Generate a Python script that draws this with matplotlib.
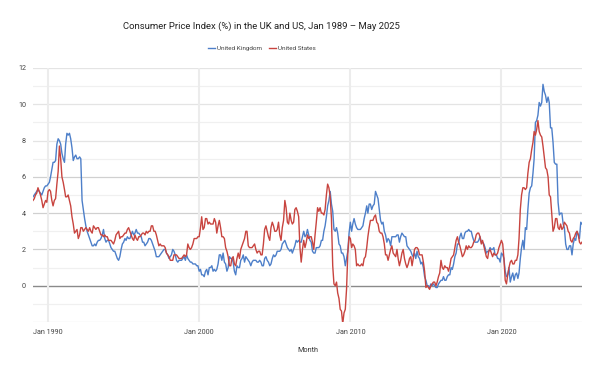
import matplotlib
matplotlib.use("Agg")
import matplotlib.pyplot as plt
import pandas as pd

plt.rcParams['font.family'] = ['Roboto', 'DejaVu Sans']

title = "Consumer Price Index (%) in the UK and US, Jan 1989 \u2013 May 2025"
series_names = ["United Kingdom", "United States"]
start_month = "1989-01-01"
x_label = "Month"
x_tick_years = [1990, 2000, 2010, 2020]
y_tick_values = [0, 2, 4, 6, 8, 10, 12]

uk_cpi = [
    4.9, 5.0, 5.1, 5.2, 5.3, 5.2, 5.1, 5.0, 5.2, 5.4, 5.5, 5.5,   # 1989
    5.6, 5.7, 6.0, 6.4, 6.8, 6.8, 6.9, 7.8, 8.1, 8.0, 7.8, 7.3,   # 1990
    7.0, 6.8, 7.8, 8.4, 8.3, 8.4, 8.1, 7.6, 6.9, 7.1, 7.2, 7.0,   # 1991
    7.0, 7.1, 7.0, 4.7, 4.2, 3.7, 3.3, 3.0, 2.8, 2.6, 2.4, 2.2,   # 1992
    2.2, 2.3, 2.2, 2.4, 2.5, 2.5, 2.6, 2.8, 3.1, 2.6, 2.4, 2.5,   # 1993
    2.5, 2.3, 2.1, 2.0, 1.9, 1.9, 1.7, 1.5, 1.4, 1.6, 2.0, 2.3,   # 1994
    2.4, 2.6, 2.5, 2.7, 2.6, 2.6, 2.8, 3.0, 2.8, 2.9, 3.1, 2.9,   # 1995
    2.9, 2.8, 2.7, 2.4, 2.4, 2.2, 2.3, 2.4, 2.6, 2.6, 2.5, 2.3,   # 1996
    2.1, 1.9, 1.6, 1.6, 1.6, 1.7, 1.8, 1.9, 2.0, 2.0, 1.8, 1.7,   # 1997
    1.5, 1.6, 1.7, 2.0, 1.9, 1.7, 1.4, 1.3, 1.4, 1.4, 1.4, 1.5,   # 1998
    1.6, 1.4, 1.7, 1.5, 1.4, 1.3, 1.3, 1.2, 1.2, 1.2, 1.1, 1.1,   # 1999
    0.8, 0.9, 0.6, 0.6, 0.5, 0.8, 0.9, 0.6, 1.0, 1.0, 1.1, 0.8,   # 2000
    0.9, 0.8, 0.9, 1.2, 1.7, 1.7, 1.4, 1.8, 1.3, 1.2, 0.8, 1.0,   # 2001
    1.6, 1.5, 1.5, 1.3, 0.8, 0.6, 1.1, 1.0, 1.0, 1.4, 1.5, 1.7,   # 2002
    1.3, 1.6, 1.5, 1.4, 1.3, 1.1, 1.3, 1.4, 1.4, 1.4, 1.3, 1.3,   # 2003
    1.4, 1.3, 1.1, 1.1, 1.5, 1.6, 1.4, 1.3, 1.1, 1.2, 1.5, 1.7,   # 2004
    1.6, 1.7, 1.9, 1.9, 1.9, 2.0, 2.3, 2.4, 2.5, 2.3, 2.1, 2.0,   # 2005
    1.9, 2.0, 1.8, 2.0, 2.2, 2.5, 2.4, 2.5, 2.4, 2.4, 2.7, 3.0,   # 2006
    2.7, 2.8, 3.1, 2.8, 2.5, 2.4, 1.9, 1.8, 1.8, 2.1, 2.1, 2.1,   # 2007
    2.2, 2.5, 2.5, 3.0, 3.3, 3.8, 4.4, 4.7, 5.2, 4.5, 4.1, 3.1,   # 2008
    3.0, 3.2, 2.9, 2.3, 2.2, 1.8, 1.8, 1.6, 1.1, 1.5, 1.9, 2.9,   # 2009
    3.5, 3.0, 3.4, 3.7, 3.4, 3.2, 3.1, 3.1, 3.1, 3.2, 3.3, 3.7,   # 2010
    4.0, 4.4, 4.0, 4.5, 4.5, 4.2, 4.4, 4.5, 5.2, 5.0, 4.8, 4.2,   # 2011
    3.6, 3.4, 3.5, 3.0, 2.8, 2.4, 2.6, 2.5, 2.2, 2.7, 2.7, 2.7,   # 2012
    2.7, 2.8, 2.8, 2.4, 2.7, 2.9, 2.8, 2.7, 2.7, 2.2, 2.1, 2.0,   # 2013
    1.9, 1.7, 1.6, 1.8, 1.5, 1.9, 1.6, 1.5, 1.2, 1.3, 1.0, 0.5,   # 2014
    0.3, 0.0, 0.0, -0.1, 0.1, 0.0, 0.1, 0.0, -0.1, -0.1, 0.1, 0.2,  # 2015
    0.3, 0.3, 0.5, 0.3, 0.3, 0.5, 0.6, 0.6, 1.0, 0.9, 1.2, 1.6,   # 2016
    1.8, 2.3, 2.3, 2.7, 2.9, 2.6, 2.6, 2.9, 3.0, 3.0, 3.1, 3.0,   # 2017
    3.0, 2.7, 2.5, 2.4, 2.4, 2.4, 2.5, 2.7, 2.4, 2.4, 2.3, 2.1,   # 2018
    1.8, 1.9, 1.9, 2.1, 2.0, 2.0, 2.1, 1.7, 1.7, 1.5, 1.5, 1.3,   # 2019
    1.8, 1.7, 1.5, 0.8, 0.5, 0.6, 1.0, 0.2, 0.5, 0.7, 0.3, 0.6,   # 2020
    0.7, 0.4, 0.7, 1.5, 2.1, 2.5, 2.0, 3.2, 3.1, 4.2, 5.1, 5.4,   # 2021
    5.5, 6.2, 7.0, 9.0, 9.1, 9.4, 10.1, 9.9, 10.1, 11.1, 10.7, 10.5,  # 2022
    10.1, 10.4, 10.1, 8.7, 8.7, 7.9, 6.8, 6.7, 6.7, 4.6, 3.9, 4.0,  # 2023
    4.0, 3.4, 3.2, 2.3, 2.0, 2.0, 2.2, 2.2, 1.7, 2.3, 2.6, 2.5,   # 2024
    3.0, 2.8, 2.6, 3.5, 3.4,                                      # 2025
]

us_cpi = [
    4.7, 4.8, 5.0, 5.1, 5.4, 5.2, 5.0, 4.7, 4.3, 4.5, 4.7, 4.6,   # 1989
    5.2, 5.3, 5.2, 4.7, 4.4, 4.7, 4.8, 5.6, 6.3, 7.7, 7.0, 6.0,   # 1990
    5.7, 5.3, 4.9, 4.9, 5.0, 4.7, 4.4, 3.8, 3.4, 2.9, 3.0, 3.1,   # 1991
    2.6, 2.8, 3.2, 3.2, 3.0, 3.1, 3.2, 3.1, 3.0, 3.2, 3.0, 2.9,   # 1992
    3.3, 3.2, 3.1, 3.2, 3.2, 3.0, 2.8, 2.8, 2.7, 2.8, 2.7, 2.7,   # 1993
    2.5, 2.5, 2.5, 2.4, 2.3, 2.5, 2.8, 2.9, 3.0, 2.6, 2.7, 2.7,   # 1994
    2.8, 2.9, 2.9, 3.1, 3.2, 3.0, 2.8, 2.6, 2.5, 2.8, 2.6, 2.5,   # 1995
    2.7, 2.7, 2.8, 2.9, 2.9, 2.8, 3.0, 2.9, 3.0, 3.0, 3.3, 3.3,   # 1996
    3.0, 3.0, 2.8, 2.5, 2.2, 2.3, 2.2, 2.2, 2.2, 2.1, 1.8, 1.7,   # 1997
    1.6, 1.4, 1.4, 1.4, 1.7, 1.7, 1.7, 1.6, 1.5, 1.5, 1.5, 1.6,   # 1998
    1.7, 1.6, 1.7, 2.3, 2.1, 2.0, 2.1, 2.3, 2.6, 2.6, 2.6, 2.7,   # 1999
    2.7, 3.2, 3.8, 3.1, 3.2, 3.7, 3.7, 3.4, 3.5, 3.4, 3.4, 3.4,   # 2000
    3.7, 3.5, 2.9, 3.3, 3.6, 3.2, 2.7, 2.7, 2.6, 2.1, 1.9, 1.6,   # 2001
    1.1, 1.1, 1.5, 1.6, 1.2, 1.1, 1.5, 1.8, 1.5, 2.0, 2.2, 2.4,   # 2002
    2.6, 3.0, 3.0, 2.2, 2.1, 2.1, 2.1, 2.2, 2.3, 2.0, 1.8, 1.9,   # 2003
    1.9, 1.7, 1.7, 2.3, 3.1, 3.3, 3.0, 2.7, 2.5, 3.2, 3.5, 3.3,   # 2004
    3.0, 3.0, 3.1, 3.5, 2.8, 2.5, 3.2, 3.6, 4.7, 4.3, 3.5, 3.4,   # 2005
    4.0, 3.6, 3.4, 3.5, 4.2, 4.3, 4.1, 3.8, 2.1, 1.3, 2.0, 2.5,   # 2006
    2.1, 2.4, 2.8, 2.6, 2.7, 2.7, 2.4, 2.0, 2.8, 3.5, 4.3, 4.1,   # 2007
    4.3, 4.0, 4.0, 3.9, 4.2, 5.0, 5.6, 5.4, 4.9, 3.7, 1.1, 0.1,   # 2008
    0.0, 0.2, -0.4, -0.7, -1.3, -1.4, -2.1, -1.5, -1.3, -0.2, 1.8, 2.7,  # 2009
    2.6, 2.1, 2.3, 2.2, 2.0, 1.1, 1.2, 1.1, 1.1, 1.2, 1.1, 1.5,   # 2010
    1.6, 2.1, 2.7, 3.2, 3.6, 3.6, 3.6, 3.8, 3.9, 3.5, 3.4, 3.0,   # 2011
    2.9, 2.9, 2.7, 2.3, 1.7, 1.7, 1.4, 1.7, 2.0, 2.2, 1.8, 1.7,   # 2012
    1.6, 2.0, 1.5, 1.1, 1.4, 1.8, 2.0, 1.5, 1.2, 1.0, 1.2, 1.5,   # 2013
    1.6, 1.1, 1.5, 2.0, 2.1, 2.1, 2.0, 1.7, 1.7, 1.7, 1.3, 0.8,   # 2014
    -0.1, 0.0, -0.1, -0.2, 0.0, 0.1, 0.2, 0.2, 0.0, 0.2, 0.5, 0.7,  # 2015
    1.4, 1.0, 0.9, 1.1, 1.0, 1.0, 0.8, 1.1, 1.5, 1.6, 1.7, 2.1,   # 2016
    2.5, 2.7, 2.4, 2.2, 1.9, 1.6, 1.7, 1.9, 2.2, 2.0, 2.2, 2.1,   # 2017
    2.1, 2.2, 2.4, 2.5, 2.8, 2.9, 2.9, 2.7, 2.3, 2.5, 2.2, 1.9,   # 2018
    1.6, 1.5, 1.9, 2.0, 1.8, 1.6, 1.8, 1.7, 1.7, 1.8, 2.1, 2.3,   # 2019
    2.5, 2.3, 1.5, 0.3, 0.1, 0.6, 1.0, 1.3, 1.4, 1.2, 1.2, 1.4,   # 2020
    1.4, 1.7, 2.6, 4.2, 5.0, 5.4, 5.4, 5.3, 5.4, 6.2, 6.8, 7.0,   # 2021
    7.5, 7.9, 8.5, 8.3, 8.6, 9.1, 8.5, 8.3, 8.2, 7.7, 7.1, 6.5,   # 2022
    6.4, 6.0, 5.0, 4.9, 4.0, 3.0, 3.2, 3.7, 3.7, 3.2, 3.1, 3.4,   # 2023
    3.1, 3.2, 3.5, 3.4, 3.3, 3.0, 2.9, 2.5, 2.4, 2.6, 2.7, 2.9,   # 2024
    3.0, 2.8, 2.4, 2.3, 2.4,                                      # 2025
]

colors = ["#4d7fc9", "#c8443f"]

months = pd.date_range(start_month, periods=len(uk_cpi), freq="MS")

fig = plt.figure(figsize=(6.0, 3.72), dpi=100)
ax = fig.add_axes([33 / 600, 1 - 322 / 372, (582 - 33) / 600, (322 - 68) / 372])

# horizontal gridlines
for v in range(-2, 13):
    if v == 0:
        c, lw = "#8a8a8a", 1.0
    elif v in (2, 4, 6):
        c, lw = "#d0d0d0", 0.9
    elif v % 2 == 0:
        c, lw = "#e4e4e4", 0.9
    else:
        c, lw = "#f0f0f0", 0.9
    ax.axhline(v, color=c, lw=lw, zorder=1)

# vertical gridlines
for yr in x_tick_years:
    ax.axvline(pd.Timestamp(f"{yr}-01-01"), color="#ececec", lw=1.5, zorder=1)

ax.plot(months, uk_cpi, color=colors[0], lw=1.0, label=series_names[0], zorder=3)
ax.plot(months, us_cpi, color=colors[1], lw=1.0, label=series_names[1], zorder=3)

ax.set_xlim(months[0], months[-1])
ax.set_ylim(-2, 12)
ax.set_yticks(y_tick_values)
ax.set_yticklabels([str(v) for v in y_tick_values])
ax.set_xticks([pd.Timestamp(f"{yr}-01-01") for yr in x_tick_years])
ax.set_xticklabels([f"Jan {yr}" for yr in x_tick_years])
ax.tick_params(axis="both", length=0, labelsize=5.2, colors="#444444")
ax.tick_params(axis="y", pad=5)
ax.tick_params(axis="x", pad=5)
for s in ax.spines.values():
    s.set_visible(False)
ax.set_xlabel(x_label, fontsize=5.2, color="#333333", labelpad=8)

fig.text(261 / 600, 1 - 26 / 372, title, ha="center", va="center",
         fontsize=6.8, color="#222222")

fig.legend(loc="center", bbox_to_anchor=(262 / 600, 1 - 48 / 372), ncol=2,
           frameon=False, fontsize=4.6, handlelength=1.0, handletextpad=0.4,
           columnspacing=1.1, labelcolor="#444444")

fig.savefig("out.png", dpi=100, facecolor="white")
